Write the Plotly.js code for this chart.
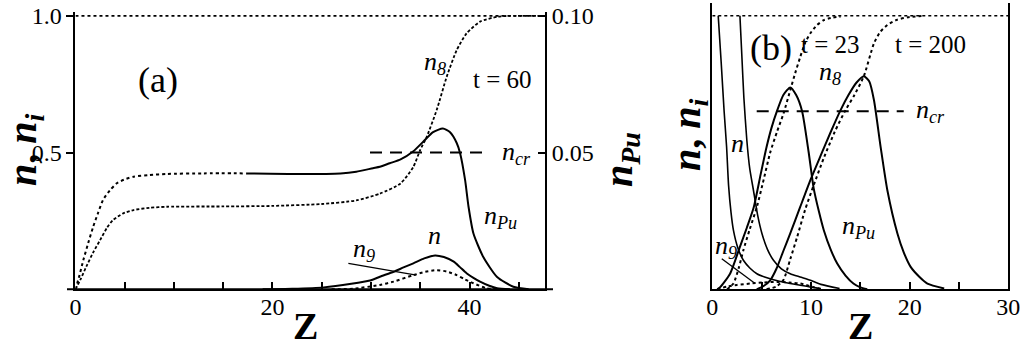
<!DOCTYPE html>
<html>
<head>
<meta charset="utf-8">
<script src="https://cdn.plot.ly/plotly-3.0.1.min.js"></script>
<style>
html,body{margin:0;padding:0;background:#fff;}
#chart{width:1024px;height:347px;}
</style>
</head>
<body>
<div id="chart"></div>
<script>
// ---------- Panel (a), t = 60 ----------
const a_top_z = [0, 47.66];
const a_top_v = [1.0, 1.0];

const a_n8_z = [0, 0.5, 1.1, 1.8, 2.5, 3.2, 3.8, 4.8, 5.9, 7.5, 9.3, 15, 20, 25, 28.5, 30.9, 33.0, 34.3, 35.0, 35.66, 36.67, 37.69, 38.7, 39.7, 41.07, 42.8, 44, 47.66];
const a_n8_v = [0, 0.035, 0.083, 0.135, 0.18, 0.225, 0.253, 0.277, 0.29, 0.298, 0.302, 0.303, 0.305, 0.312, 0.325, 0.35, 0.387, 0.448, 0.51, 0.558, 0.656, 0.778, 0.875, 0.936, 0.979, 0.997, 1.0, 1.0];

const a_nPu_dot_z = [0, 0.4, 0.8, 1.3, 1.8, 2.3, 2.8, 3.5, 4.2, 5.0, 5.9, 7.5, 9.3, 13, 17.4];
const a_nPu_dot_v = [0, 0.005, 0.0107, 0.017, 0.0229, 0.028, 0.0327, 0.0362, 0.0388, 0.0402, 0.0412, 0.0418, 0.0422, 0.0424, 0.0424];
const a_nPu_z = [17.4, 22.8, 26.9, 28.5, 30.2, 30.9, 31.9, 33.0, 34.3, 35.3, 36.3, 37.3, 38.0, 38.7, 39.05, 39.55, 39.9, 40.4, 41.4, 42.8, 44.45, 46];
const a_nPu_v = [0.0424, 0.0422, 0.0424, 0.043, 0.0443, 0.0448, 0.0461, 0.0475, 0.0505, 0.054, 0.0575, 0.0588, 0.0575, 0.0535, 0.0497, 0.040, 0.0302, 0.0204, 0.0118, 0.0045, 0.00095, 0];

const a_n_z = [19, 22, 25.2, 28, 29.9, 30.9, 32.3, 33.3, 34.3, 35.4, 36.5, 37.4, 38.4, 39.0, 39.7, 40.4, 41.07, 42.0, 42.8, 44.1];
const a_n_v = [0, 0.002, 0.007, 0.02, 0.032, 0.046, 0.064, 0.08, 0.095, 0.113, 0.124, 0.118, 0.101, 0.082, 0.059, 0.042, 0.028, 0.013, 0.004, 0];

const a_n9_z = [26, 28.2, 30.9, 32.3, 34.3, 35.5, 36.67, 37.7, 38.7, 39.5, 40.4, 41.7, 43];
const a_n9_v = [0, 0.002, 0.016, 0.028, 0.052, 0.064, 0.07, 0.065, 0.052, 0.037, 0.022, 0.004, 0];

const a_ncr_z = [29.9, 41.4];
const a_ncr_v = [0.05, 0.05];
const a_ptr_z = [27.7, 34.6];
const a_ptr_v = [0.095, 0.052];

// ---------- Panel (b), t = 23 and t = 200 ----------
const b_top_z = [0, 30];
const b_top_v = [1.0, 1.0];

const b_nPu23_z = [0.5, 0.8, 1.8, 2.8, 3.5, 4.2, 4.9, 5.5, 6.0, 6.55, 7.2, 7.9, 8.5, 9.1, 9.77, 10.27, 10.8, 11.3, 12.0, 12.66, 13.5, 14.3, 15.0, 15.7];
const b_nPu23_v = [0, 0.008, 0.057, 0.155, 0.225, 0.30, 0.42, 0.52, 0.59, 0.651, 0.71, 0.738, 0.71, 0.651, 0.50, 0.37, 0.285, 0.216, 0.145, 0.094, 0.05, 0.021, 0.007, 0];

const b_n8_23_z = [1.5, 2.14, 2.7, 3.15, 3.8, 4.52, 5.2, 5.87, 6.55, 7.22, 7.9, 8.4, 8.92, 9.4, 9.94, 10.6, 11.3, 12.2, 13.0];
const b_n8_23_v = [0, 0.021, 0.08, 0.143, 0.22, 0.301, 0.40, 0.50, 0.575, 0.643, 0.728, 0.79, 0.85, 0.90, 0.936, 0.965, 0.984, 0.993, 0.997];

const b_nPu200_z = [4.5, 5.2, 5.87, 6.5, 7.2, 7.9, 8.9, 9.94, 11.0, 12.0, 13.0, 13.8, 14.6, 15.36, 15.9, 16.38, 17.06, 17.74, 18.76, 19.4, 20.1, 21.0, 21.8, 23.5];
const b_nPu200_v = [0, 0.012, 0.033, 0.075, 0.14, 0.204, 0.30, 0.399, 0.49, 0.575, 0.655, 0.71, 0.755, 0.779, 0.76, 0.692, 0.52, 0.362, 0.204, 0.135, 0.082, 0.045, 0.021, 0.003];

const b_n8_200_z = [5.5, 6.5, 7.22, 7.9, 8.59, 9.4, 10.27, 11.3, 12.4, 13.5, 14.4, 15.36, 16.38, 17.0, 17.74, 18.7, 19.8, 21.5];
const b_n8_200_v = [0, 0.01, 0.035, 0.11, 0.19, 0.29, 0.38, 0.48, 0.575, 0.655, 0.71, 0.779, 0.899, 0.94, 0.966, 0.985, 0.994, 1.0];

const b_n23_z = [0.6, 0.9, 1.2, 1.45, 1.65, 1.9, 2.14, 2.6, 3.15, 3.8, 4.52, 5.3, 6.2, 7.5, 8.9, 10.0, 11.0];
const b_n23_v = [1.0, 0.83, 0.65, 0.52, 0.38, 0.28, 0.216, 0.15, 0.106, 0.078, 0.057, 0.045, 0.035, 0.024, 0.015, 0.008, 0.003];

const b_n200_z = [2.8, 3.0, 3.2, 3.5, 3.8, 4.17, 4.6, 5.03, 5.6, 6.2, 7.0, 7.9, 8.9, 9.94, 11.0, 12.9];
const b_n200_v = [1.0, 0.85, 0.70, 0.545, 0.44, 0.362, 0.27, 0.204, 0.145, 0.106, 0.075, 0.057, 0.045, 0.033, 0.018, 0.003];

const b_n9_z = [0.5, 1.5, 2.5, 3.84, 5.2, 6.55, 7.8, 8.92, 10.27, 11.0];
const b_n9_v = [0, 0.01, 0.016, 0.021, 0.025, 0.027, 0.025, 0.021, 0.008, 0];

const b_ncr_z = [4.5, 19.4];
const b_ncr_v = [0.651, 0.651];
const b_ptr_z = [0.96, 4.34];
const b_ptr_v = [0.112, 0.021];

// labelled ticks (minor ticks every 5 are unlabelled)
const a_tickvals = [0, 20, 40];
const a_ticktext = ['0', '20', '40'];
const b_tickvals = [0, 10, 20, 30];
const b_ticktext = ['0', '10', '20', '30'];

const SERIF = 'Liberation Serif';
const K = '#000';
function F(size) { return {family: SERIF, size: size, color: K}; }

function tr(x, y, xa, ya, dash, w) {
  return {x: x, y: y, xaxis: xa, yaxis: ya, mode: 'lines',
          line: {color: K, width: w, dash: dash, shape: 'spline', smoothing: 0.6}};
}
function seg(x, y, xa, ya, dash, w) {
  return {x: x, y: y, xaxis: xa, yaxis: ya, mode: 'lines',
          line: {color: K, width: w, dash: dash}};
}

const data = [
  seg(a_top_z, a_top_v, 'x', 'y', 'dot', 1.6),
  tr(a_n8_z, a_n8_v, 'x', 'y', '3px,2px', 1.8),
  tr(a_nPu_dot_z, a_nPu_dot_v, 'x', 'y2', 'dot', 2),
  tr(a_nPu_z, a_nPu_v, 'x', 'y2', 'solid', 2),
  tr(a_n_z, a_n_v, 'x', 'y', 'solid', 2),
  tr(a_n9_z, a_n9_v, 'x', 'y', 'dot', 2),
  seg(a_ncr_z, a_ncr_v, 'x', 'y2', '12px,8px', 2),
  seg(a_ptr_z, a_ptr_v, 'x', 'y', 'solid', 1.3),

  seg(b_top_z, b_top_v, 'x2', 'y3', 'dot', 1.6),
  tr(b_nPu23_z, b_nPu23_v, 'x2', 'y3', 'solid', 2),
  tr(b_n8_23_z, b_n8_23_v, 'x2', 'y3', 'dot', 2),
  tr(b_nPu200_z, b_nPu200_v, 'x2', 'y3', 'solid', 2),
  tr(b_n8_200_z, b_n8_200_v, 'x2', 'y3', 'dot', 2),
  tr(b_n23_z, b_n23_v, 'x2', 'y3', 'solid', 1.6),
  tr(b_n200_z, b_n200_v, 'x2', 'y3', 'solid', 1.6),
  tr(b_n9_z, b_n9_v, 'x2', 'y3', 'dot', 2),
  seg(b_ncr_z, b_ncr_v, 'x2', 'y3', '12px,8px', 2),
  seg(b_ptr_z, b_ptr_v, 'x2', 'y3', 'solid', 1.3)
];

function ann(x, y, xr, yr, text, size, xanchor, angle) {
  const a = {x: x, y: y, xref: xr, yref: yr, text: text, showarrow: false,
          font: F(size), xanchor: xanchor || 'center', yanchor: 'middle'};
  if (angle) a.textangle = angle;
  return a;
}
function pax(px) { return px / 1024; }
function pay(py) { return (347 - py) / 347; }

const layout = {
  width: 1024, height: 347,
  margin: {l: 0, r: 0, t: 0, b: 0},
  showlegend: false,
  font: F(16),
  xaxis: {domain: [0.0737, 0.5322], range: [0, 47.66], anchor: 'y',
          tickmode: 'array', tickvals: a_tickvals, ticktext: a_ticktext,
          ticks: 'inside', ticklen: 7, tickwidth: 1.5, tickcolor: K, ticklabelstandoff: -5,
          minor: {dtick: 5, tick0: 0, ticks: 'inside', ticklen: 7, tickwidth: 1.5, tickcolor: K, showgrid: false},
          showline: true, linewidth: 2, linecolor: K, showgrid: false, zeroline: false,
          tickfont: F(24)},
  yaxis: {domain: [0.1663, 0.9654], range: [0, 1.0143], anchor: 'x',
          tickmode: 'array', tickvals: [0.5, 1.0], ticktext: ['0.5', '1.0'],
          ticks: 'outside', ticklen: 7, tickwidth: 1.5, tickcolor: K,
          showline: true, linewidth: 2, linecolor: K, showgrid: false, zeroline: false,
          tickfont: F(24)},
  yaxis2: {overlaying: 'y', side: 'right', anchor: 'x', range: [0, 0.10143],
          tickmode: 'array', tickvals: [0.05, 0.10], ticktext: ['0.05', '0.10'],
          ticks: 'inside', ticklen: 7, tickwidth: 1.5, tickcolor: K,
          showline: true, linewidth: 2, linecolor: K, showgrid: false, zeroline: false,
          tickfont: F(24)},
  xaxis2: {domain: [0.6956, 0.9847], range: [0, 30], anchor: 'y3',
          tickmode: 'array', tickvals: b_tickvals, ticktext: b_ticktext,
          ticks: 'inside', ticklen: 7, tickwidth: 1.5, tickcolor: K, ticklabelstandoff: -5,
          minor: {dtick: 5, tick0: 0, ticks: 'inside', ticklen: 7, tickwidth: 1.5, tickcolor: K, showgrid: false},
          showline: true, linewidth: 2, linecolor: K, showgrid: false, zeroline: false,
          tickfont: F(24)},
  yaxis3: {domain: [0.1663, 0.991], range: [0, 1.046], anchor: 'x2',
          showticklabels: false, ticks: '', mirror: true,
          showline: true, linewidth: 2, linecolor: K, showgrid: false, zeroline: false},
  shapes: [
    {type: 'line', xref: 'paper', yref: 'paper', x0: 67/1024, x1: 553/1024, y0: (347-289.3)/347, y1: (347-289.3)/347,
     line: {color: K, width: 2}}
  ],
  annotations: [
    // axis titles
    ann(pax(305), pay(326), 'paper', 'paper', '<b>Z</b>', 38),
    ann(pax(860), pay(326), 'paper', 'paper', '<b>Z</b>', 38),
    ann(pax(25), pay(150), 'paper', 'paper', '<b><i>n</i>, <i>n<sub>i</sub></i></b>', 40, 'center', -90),
    ann(pax(689), pay(135), 'paper', 'paper', '<b><i>n</i>, <i>n<sub>i</sub></i></b>', 40, 'center', -90),
    ann(pax(621), pay(160), 'paper', 'paper', '<b><i>n<sub>Pu</sub></i></b>', 40, 'center', -90),
    // panel (a)
    ann(8.38, 0.766, 'x', 'y', '(a)', 36),
    ann(43.3, 0.766, 'x', 'y', 't = 60', 25),
    ann(36.5, 0.828, 'x', 'y', '<i>n<sub>8</sub></i>', 26),
    ann(43.1, 0.50, 'x', 'y', '<i>n<sub>cr</sub></i>', 26, 'left'),
    ann(43.1, 0.264, 'x', 'y', '<i>n<sub>Pu</sub></i>', 26),
    ann(36.4, 0.195, 'x', 'y', '<i>n</i>', 26),
    ann(29.3, 0.144, 'x', 'y', '<i>n<sub>9</sub></i>', 26),
    // panel (b)
    ann(5.96, 0.882, 'x2', 'y3', '(b)', 36),
    ann(12.0, 0.893, 'x2', 'y3', 't = 23', 25),
    ann(22.1, 0.893, 'x2', 'y3', 't = 200', 25),
    ann(11.97, 0.79, 'x2', 'y3', '<i>n<sub>8</sub></i>', 26),
    ann(20.4, 0.651, 'x2', 'y3', '<i>n<sub>cr</sub></i>', 26, 'left'),
    ann(2.6, 0.534, 'x2', 'y3', '<i>n</i>', 26),
    ann(14.8, 0.227, 'x2', 'y3', '<i>n<sub>Pu</sub></i>', 26),
    ann(1.4, 0.154, 'x2', 'y3', '<i>n<sub>9</sub></i>', 26)
  ]
};

Plotly.newPlot('chart', data, layout, {displayModeBar: false});
</script>
</body>
</html>
